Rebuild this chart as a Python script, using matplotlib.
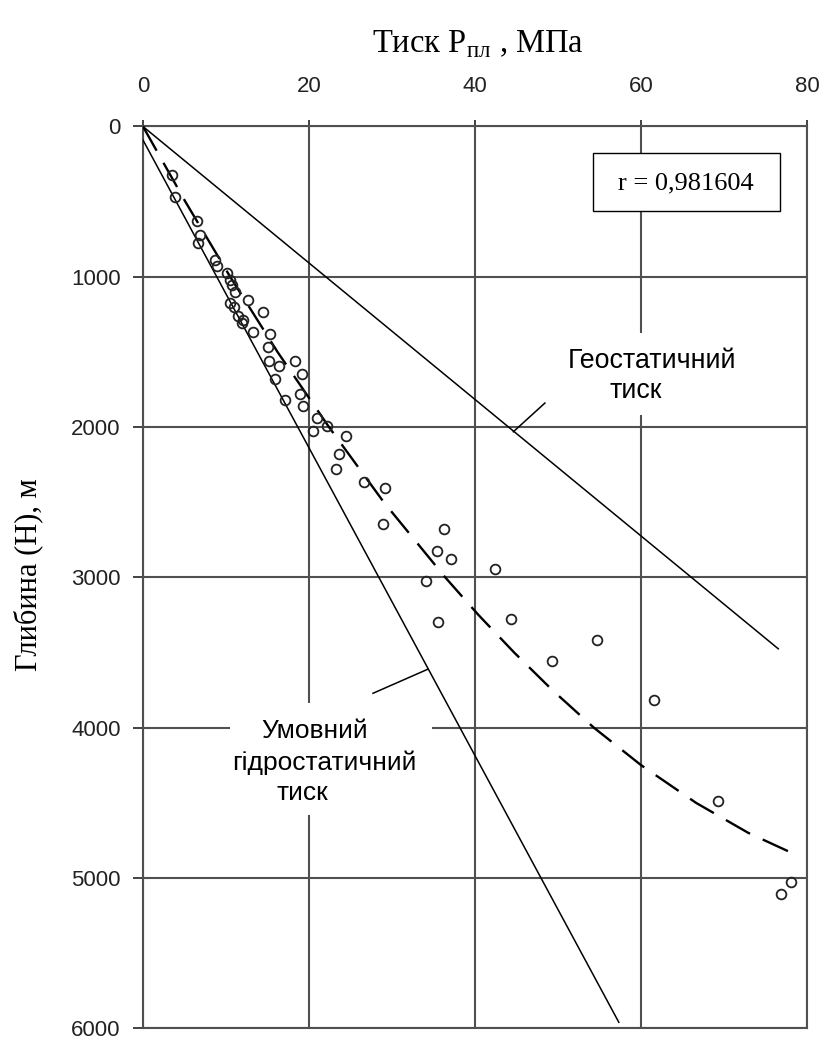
import matplotlib
matplotlib.use("Agg")
import matplotlib.pyplot as plt
from matplotlib.patches import Rectangle

plt.rcParams['mathtext.fontset'] = 'custom'
plt.rcParams['mathtext.rm'] = 'Liberation Serif'
plt.rcParams['lines.scale_dashes'] = False

SERIF = ['Liberation Serif', 'DejaVu Serif']
SANS = ['Liberation Sans', 'DejaVu Sans']

# measured reservoir pressure (MPa) against depth (m)
pressure = [3.45, 3.85, 6.46, 6.86, 6.66, 8.66, 8.86, 10.07, 10.47, 10.67,
            11.07, 10.47, 10.9, 12.67, 14.47, 11.47, 12.07, 11.87, 13.27, 15.28,
            15.08, 15.2, 16.4, 18.29, 15.88, 19.09, 17.08, 18.89, 19.29, 20.9,
            22.1, 20.49, 24.42, 23.6, 23.3, 26.6, 29.2, 28.9, 36.2, 35.45,
            37.1, 42.35, 34.05, 35.5, 44.3, 54.7, 49.2, 61.5, 69.2, 78.0, 76.8]
depth = [322, 471, 632, 721, 776, 887, 931, 975, 1020, 1053,
         1098, 1173, 1200, 1153, 1235, 1264, 1286, 1308, 1370, 1378,
         1467, 1558, 1596, 1558, 1680, 1645, 1817, 1780, 1862, 1939,
         1990, 2028, 2061, 2178, 2278, 2367, 2404, 2648, 2676, 2825,
         2876, 2942, 3025, 3297, 3279, 3419, 3556, 3815, 4487, 5025, 5106]

# trend curve
trend_p = [0, 5.1, 10.5, 16.2, 22.4, 29.0, 36.4, 40.4, 44.7, 49.3, 54.3,
           60.0, 66.6, 72.9, 78.8]
trend_h = [0, 500, 1000, 1500, 2000, 2500, 3000, 3250, 3500, 3750, 4000,
           4250, 4500, 4700, 4850]

# geostatic and conventional hydrostatic gradients
geo_p = [0, 76.5]
geo_h = [0, 3475]
hydro_p = [0, 57.3]
hydro_h = [90, 5960]

r_label = "r = 0,981604"
x_ticks = [0, 20, 40, 60, 80]
y_ticks = [0, 1000, 2000, 3000, 4000, 5000, 6000]

grid_col = '#505050'

fig = plt.figure(figsize=(8.27, 10.44), dpi=100)
ax = fig.add_axes([0.1729, 0.01504, 0.8033, 0.8638])
ax.set_xlim(0, 80)
ax.set_ylim(6000, 0)
ax.xaxis.tick_top()
ax.set_xticks(x_ticks)
ax.set_yticks(y_ticks)
ax.tick_params(axis='x', direction='out', length=4.3, width=1.2, pad=17,
               labelsize=16, colors='#222222')
ax.tick_params(axis='y', direction='out', length=7, width=1.2, pad=9,
               labelsize=16, colors='#222222')
for lab in ax.get_xticklabels() + ax.get_yticklabels():
    lab.set_family(SANS)
ax.grid(True, color=grid_col, linewidth=1.5)
ax.set_axisbelow(True)
for sp in ax.spines.values():
    sp.set_color(grid_col)
    sp.set_linewidth(1.5)

# white patches behind the annotations
ax.add_patch(Rectangle((50.2, 1374), 22.3, 545, facecolor='white',
                       edgecolor='none', zorder=2))
ax.add_patch(Rectangle((10.5, 3836), 24.3, 745, facecolor='white',
                       edgecolor='none', zorder=2))
ax.add_patch(Rectangle((54.2, 174), 22.5, 388, facecolor='white',
                       edgecolor='black', linewidth=1.0, zorder=2))

ax.plot(geo_p, geo_h, color='black', linewidth=1.1, zorder=3)
ax.plot(hydro_p, hydro_h, color='black', linewidth=1.1, zorder=3)
ax.plot(trend_p, trend_h, color='black', linewidth=1.7, dashes=(20, 10),
        zorder=3)
ax.plot(pressure, depth, linestyle='none', marker='o', markersize=7,
        markerfacecolor='none', markeredgecolor='#222222',
        markeredgewidth=1.3, zorder=4)

# leader lines
ax.plot([48.4, 44.6], [1840, 2031], color='black', linewidth=1.1, zorder=3)
ax.plot([27.7, 34.3], [3771, 3611], color='black', linewidth=1.1, zorder=3)

ax.text(51.1, 1607, 'Геостатичний', family=SANS, fontsize=19.3,
        ha='left', va='baseline', zorder=5)
ax.text(56.2, 1806, 'тиск', family=SANS, fontsize=19.3,
        ha='left', va='baseline', zorder=5)
ax.text(14.3, 4069, 'Умовний', family=SANS, fontsize=19,
        ha='left', va='baseline', zorder=5)
ax.text(10.7, 4282, 'гідростатичний', family=SANS, fontsize=19,
        ha='left', va='baseline', zorder=5)
ax.text(16.1, 4481, 'тиск', family=SANS, fontsize=19,
        ha='left', va='baseline', zorder=5)
ax.text(65.4, 422, r_label, family=SERIF, fontsize=19,
        ha='center', va='baseline', zorder=5)

fig.text(0.578, 0.950, r'Тиск Р$_{\mathrm{пл}}$ , МПа', family=SERIF,
         fontsize=23.5, ha='center', va='baseline')
fig.text(0.034, 0.450, 'Глибина (Н), м', family=SERIF, fontsize=22,
         rotation=90, ha='center', va='center')

fig.savefig('out.png', dpi=100)
